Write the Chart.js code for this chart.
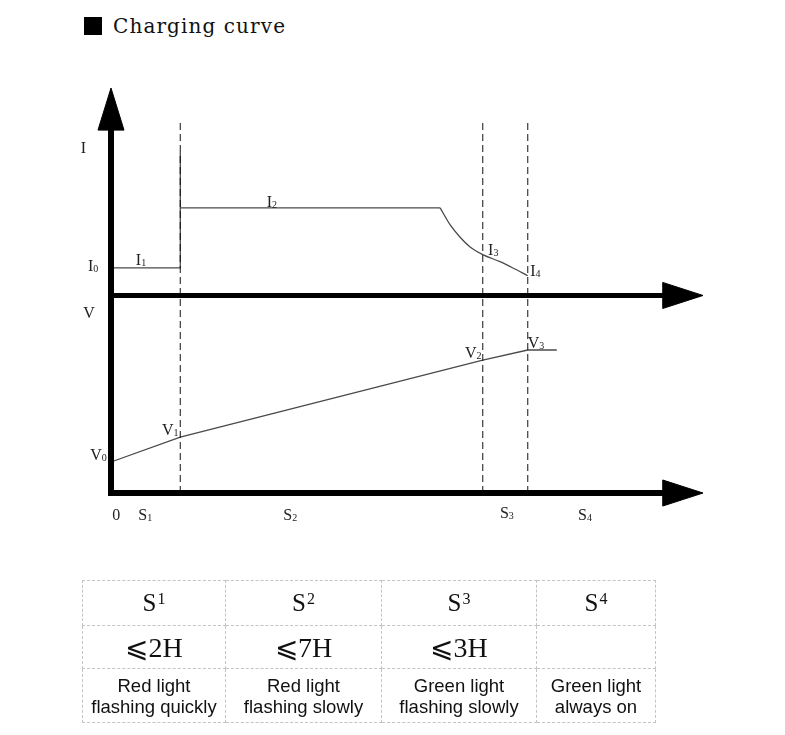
<!DOCTYPE html>
<html>
<head>
<meta charset="utf-8">
<script src="https://cdn.jsdelivr.net/npm/chart.js@4.4.1/dist/chart.umd.min.js"></script>
<style>
	body { margin:0; background:#fff; width:785px; height:735px; overflow:hidden; position:relative; }
	#wrap { position:absolute; left:0; top:0; width:785px; height:735px; }
	#title { position:absolute; left:84px; top:14px; font-family:"DejaVu Serif", serif; font-size:20px; color:#111; letter-spacing:1.1px; white-space:nowrap; }
	#title .sq { display:inline-block; width:18px; height:18px; background:#000; vertical-align:-2px; margin-right:11px; }
	table.stage { position:absolute; left:82px; top:580px; border-collapse:collapse; }
	table.stage td { border:1px dashed #c4c4c4; text-align:center; padding:0; color:#111; }
	td.s { height:44px; font-family:"Liberation Serif", serif; font-size:25px; }
	td.s sup { font-size:16px; vertical-align:7px; margin-left:1px; }
	td.h { height:42px; font-family:"Liberation Serif", serif; font-size:28px; }
	td.t { height:53px; font-family:"Liberation Sans", sans-serif; font-size:18.5px; line-height:21px; }
</style>
</head>
<body>
<div id="title"><span class="sq"></span>Charging curve</div>
<div id="wrap"><canvas id="myChart" width="785" height="735"></canvas></div>
<table class="stage" id="stageTable"></table>

<script>
	// 시간축 (0 ~ 100)
	var stageX = [11.7, 62.8, 70.4];        // S1|S2, S2|S3, S3|S4 경계
	var dashTop = 18.78;

	// 전류 곡선 (I)
	var curX = [0, 11.7, 11.7, 11.7, 55.6, 57.3, 58.9, 60.6, 62.8, 65.7, 67.9, 70.4];
	var curY = [1.4, 1.4, 7.26, 4.43, 4.43, 3.57, 2.97, 2.47, 2.07, 1.71, 1.39, 1.0];

	// 전압 곡선 (V)
	var volX = [0, 11.7, 62.8, 70.4, 75.3];
	var volY = [1.57, 2.83, 6.73, 7.24, 7.24];

	// 라벨
	var labText = ["I", "I", "I", "I", "I", "I", "V", "V", "V", "V", "V", "0", "S", "S", "S", "S"];
	var labSub  = ["", "0", "1", "2", "3", "4", "", "0", "1", "2", "3", "", "1", "2", "3", "4"];
	var labAxis = ["yI", "yI", "yI", "yI", "yI", "yI", "yV", "yV", "yV", "yV", "yV", "yV", "yV", "yV", "yV", "yV"];
	var labX = [-5.1, -3.9, 4.2, 26.3, 63.7, 70.8, -4.7, -3.5, 8.6, 59.8, 70.4, 0.2, 4.6, 29.1, 65.7, 78.9];
	var labY = [7.2, 1.24, 1.54, 4.5, 2.04, 0.98, 8.86, 1.67, 2.94, 6.83, 7.34, -1.37, -1.37, -1.37, -1.27, -1.37];

	// 표
	var stages = ["1", "2", "3", "4"];
	var hours = ["⩽2H", "⩽7H", "⩽3H", ""];
	var lights = [["Red light", "flashing quickly"], ["Red light", "flashing slowly"], ["Green light", "flashing slowly"], ["Green light", "always on"]];
	var colW = [142, 155, 154, 118];

	function pts(xs, ys) {
		var out = [];
		for (var i = 0; i < xs.length; i++) out.push({x: xs[i], y: ys[i]});
		return out;
	}

	var datasets = [];

	// 축 (굵은 선 + 화살표)
	datasets.push({ data: pts([0, 0], [-0.15, 18.4]), yAxisID: 'yV', borderColor: '#000', borderWidth: 6, pointRadius: 0, clip: false, tension: 0 });
	datasets.push({ data: pts([-0.5, 93.3], [10, 10]), yAxisID: 'yV', borderColor: '#000', borderWidth: 5, pointRadius: 0, clip: false, tension: 0 });
	datasets.push({ data: pts([-0.5, 93.3], [0, 0]), yAxisID: 'yV', borderColor: '#000', borderWidth: 6, pointRadius: 0, clip: false, tension: 0 });
	datasets.push({ data: pts([-2.2, 0, 2.2, -2.2], [18.37, 20.5, 18.37, 18.37]), yAxisID: 'yV', borderColor: '#000', backgroundColor: '#000', borderWidth: 1, fill: 'shape', pointRadius: 0, clip: false, tension: 0 });
	datasets.push({ data: pts([93.2, 100, 93.2, 93.2], [10.66, 10, 9.34, 10.66]), yAxisID: 'yV', borderColor: '#000', backgroundColor: '#000', borderWidth: 1, fill: 'shape', pointRadius: 0, clip: false, tension: 0 });
	datasets.push({ data: pts([93.2, 100, 93.2, 93.2], [0.66, 0, -0.66, 0.66]), yAxisID: 'yV', borderColor: '#000', backgroundColor: '#000', borderWidth: 1, fill: 'shape', pointRadius: 0, clip: false, tension: 0 });

	// 점선
	stageX.forEach(function(sx) {
		datasets.push({ data: pts([sx, sx], [0, dashTop]), yAxisID: 'yV', borderColor: '#111', borderWidth: 1, borderDash: [7, 4], pointRadius: 0, clip: false, tension: 0 });
	});

	// 전류, 전압
	datasets.push({ data: pts(curX.slice(0, 5), curY.slice(0, 5)), yAxisID: 'yI', borderColor: '#4a4a4a', borderWidth: 1.3, pointRadius: 0, tension: 0 });
	datasets.push({ data: pts(curX.slice(4), curY.slice(4)), yAxisID: 'yI', borderColor: '#4a4a4a', borderWidth: 1.3, pointRadius: 0, tension: 0.4, cubicInterpolationMode: 'monotone' });
	datasets.push({ data: pts(volX, volY), yAxisID: 'yV', borderColor: '#4a4a4a', borderWidth: 1.3, pointRadius: 0, tension: 0 });

	var labelPlugin = {
		id: 'labels',
		afterDatasetsDraw: function(chart) {
			var ctx = chart.ctx;
			ctx.save();
			ctx.fillStyle = '#222';
			ctx.textBaseline = 'alphabetic';
			ctx.textAlign = 'left';
			for (var i = 0; i < labText.length; i++) {
				var px = chart.scales.x.getPixelForValue(labX[i]);
				var py = chart.scales[labAxis[i]].getPixelForValue(labY[i]);
				ctx.font = '16px "Liberation Serif", serif';
				ctx.fillText(labText[i], px, py);
				if (labSub[i]) {
					var w = ctx.measureText(labText[i]).width;
					ctx.font = '10px "Liberation Serif", serif';
					ctx.fillText(labSub[i], px + w, py + 1);
				}
			}
			ctx.restore();
		}
	};

	// 차트 영역: x -10~110, yV -5~22 (yI = yV - 10)
	var ctx = document.getElementById('myChart').getContext('2d');
	window.chart_main = new Chart(ctx, {
		type: 'line',
		data: { datasets: datasets },
		options: {
			responsive: false,
			animation: false,
			events: [],
			layout: { padding: { left: 51.8, right: 22.8, top: 58.4, bottom: 143.2 } },
			plugins: { legend: { display: false }, tooltip: { enabled: false } },
			scales: {
				x: { type: 'linear', min: -10, max: 110, display: false },
				yI: { type: 'linear', min: -15, max: 12, display: false },
				yV: { type: 'linear', min: -5, max: 22, display: false }
			}
		},
		plugins: [labelPlugin]
	});

	// 단계 표
	var result = "";
	result += "<tr>";
	stages.forEach(function(s, i) { result += "<td class='s' style='width:" + colW[i] + "px'>S<sup>" + s + "</sup></td>"; });
	result += "</tr><tr>";
	hours.forEach(function(h) { result += "<td class='h'>" + h + "</td>"; });
	result += "</tr><tr>";
	lights.forEach(function(l) { result += "<td class='t'>" + l[0] + "<br>" + l[1] + "</td>"; });
	result += "</tr>";
	document.getElementById('stageTable').innerHTML = result;
</script>
</body>
</html>
